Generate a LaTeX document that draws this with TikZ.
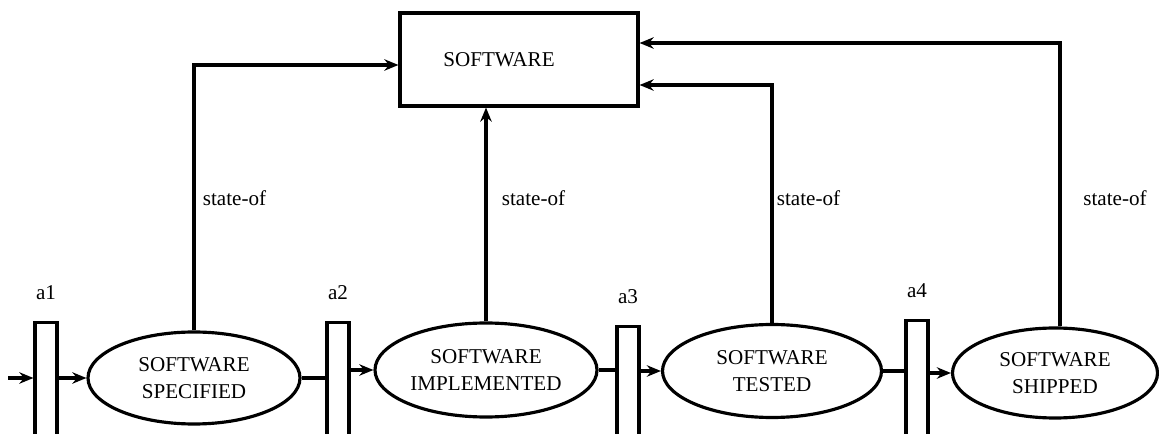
\documentclass[tikz,border=0pt]{standalone}
\usepackage{fontspec}
\setmainfont{Liberation Serif}
\usetikzlibrary{positioning}
\usetikzlibrary{arrows.meta}
\usetikzlibrary{shapes.geometric}

\tikzset{
  statenode/.style={ellipse, draw, line width=1.8pt, inner sep=0pt, align=center},
  actbar/.style={rectangle, draw, line width=1.8pt, minimum width=0.44cm, minimum height=3cm, anchor=north},
  lbl/.style={inner sep=0pt},
  flow/.style={line width=1.8pt, -{Stealth[length=8pt,width=6.5pt]}},
  plain/.style={line width=1.8pt},
}

\begin{document}
\begin{tikzpicture}[font=\rmfamily\fontsize{12}{15.3}\selectfont]
  \useasboundingbox (0,0) rectangle (23.18,8.66);
  \clip (0,0) rectangle (23.18,8.66);

  % the object
  \node[draw, line width=1.8pt, minimum width=4.76cm, minimum height=1.86cm,
        label={[xshift=-0.4cm]center:SOFTWARE}] (sw) at (10.38,7.47) {};

  % states
  \node[statenode, minimum width=4.24cm, minimum height=1.84cm] (spec) at (3.88,1.10) {SOFTWARE\\SPECIFIED};
  \node[statenode, minimum width=4.44cm, minimum height=1.88cm] (impl) at (9.72,1.26) {SOFTWARE\\IMPLEMENTED};
  \node[statenode, minimum width=4.38cm, minimum height=1.86cm] (test) at (15.44,1.24) {SOFTWARE\\TESTED};
  \node[statenode, minimum width=4.10cm, minimum height=1.80cm] (ship) at (21.10,1.20) {SOFTWARE\\SHIPPED};

  % activities
  \node[actbar] (b1) at (0.92,2.24) {};
  \node[actbar] (b2) at (6.76,2.24) {};
  \node[actbar] (b3) at (12.56,2.16) {};
  \node[actbar] (b4) at (18.34,2.28) {};
  \node[lbl, above=0.42cm of b1] (a1) {a1};
  \node[lbl, above=0.42cm of b2] (a2) {a2};
  \node[lbl, above=0.42cm of b3] (a3) {a3};
  \node[lbl, above=0.42cm of b4] (a4) {a4};

  % flow along the chain
  \coordinate (in) at (0.16,1.10);
  \draw[flow] (in) -- (in -| b1.west);
  \draw[flow] (b1.east |- spec.west) -- (spec.west);
  \draw[plain] (spec.east) -- (spec.east -| b2.west);
  \draw[flow] (b2.east |- impl.west) -- (impl.west);
  \draw[plain] (impl.east) -- (impl.east -| b3.west);
  \draw[flow] (b3.east |- test.west) -- (test.west);
  \draw[plain] (test.east) -- (test.east -| b4.west);
  \draw[flow] (b4.east |- ship.west) -- (ship.west);

  % state-of links
  \draw[flow] (spec.north) |- ([yshift=-0.11cm]sw.west);
  \draw[flow] (impl.north) -- (impl.north |- sw.south);
  \draw[flow] (test.north) |- ([yshift=-0.51cm]sw.east);
  \draw[flow] ([xshift=0.1cm]ship.north) |- ([yshift=0.33cm]sw.east);
  \node[lbl] (st1) at (4.69,4.70) {state-of};
  \node[lbl] (st2) at (10.67,4.70) {state-of};
  \node[lbl] (st3) at (16.17,4.70) {state-of};
  \node[lbl] (st4) at (22.30,4.70) {state-of};

\end{tikzpicture}
\end{document}
